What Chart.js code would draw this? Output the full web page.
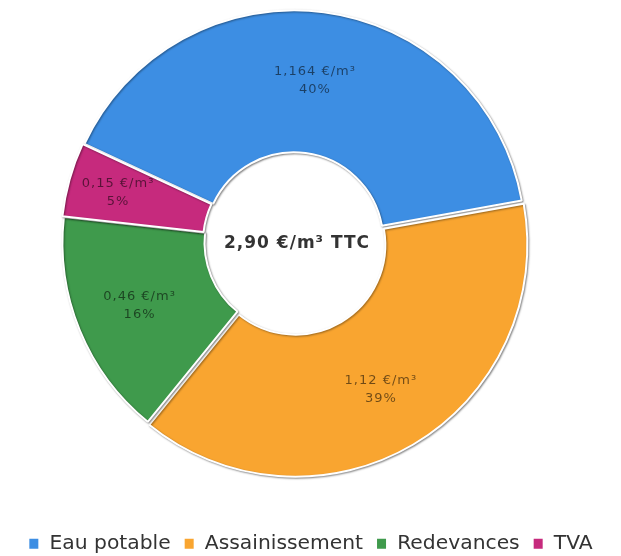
<!DOCTYPE html>
<html>
<head>
<meta charset="utf-8">
<script src="https://cdn.jsdelivr.net/npm/chart.js@4.4.0/dist/chart.umd.min.js"></script>
<style>
html, body { margin: 0; padding: 0; background: #fff; overflow: hidden; }
</style>
</head>
<body>
<canvas id="prixChart" width="621" height="564"></canvas>
<script>
// Prix de l'eau au m3, répartition par poste
var labels = ['Eau potable', 'Assainissement', 'Redevances', 'TVA'];
var values = [1.164, 1.12, 0.46, 0.15];
var unit = ' €/m³';
var centerLabel = '2,90 €/m³ TTC';

var colors = ['#3d8ee3', '#f9a530', '#3f9a4c', '#c62a7d'];

// donut sits a bit left of the page centre, legend keeps full width
var shiftPlugin = {
    id: 'shift',
    afterLayout: function(chart) {
        chart.chartArea.right -= 33;
        chart.chartArea.width -= 33;
    }
};

// soft shadow under the slices
var shadowPlugin = {
    id: 'shadow',
    beforeDatasetsDraw: function(chart) {
        var ctx = chart.ctx;
        ctx.save();
        ctx.shadowColor = 'rgba(0,0,0,0.4)';
        ctx.shadowBlur = 2;
        ctx.shadowOffsetX = 1;
        ctx.shadowOffsetY = 1;
    },
    afterDatasetsDraw: function(chart) {
        chart.ctx.restore();
    }
};

// value + percent in each slice, total in the hole
var labelPlugin = {
    id: 'sliceLabels',
    afterDatasetsDraw: function(chart) {
        var ctx = chart.ctx;
        var meta = chart.getDatasetMeta(0);
        var ds = chart.data.datasets[0];
        var total = 0;
        for (var i = 0; i < values.length; i++) total += values[i];

        ctx.save();
        ctx.letterSpacing = '1px';
        ctx.textAlign = 'center';
        ctx.textBaseline = 'middle';
        ctx.font = '13px "DejaVu Sans"';
        ctx.fillStyle = 'rgba(0,0,0,0.55)';
        meta.data.forEach(function(arc, i) {
            var p = arc.getProps(['x', 'y', 'startAngle', 'endAngle', 'innerRadius', 'outerRadius']);
            var mid = (p.startAngle + p.endAngle) / 2;
            var share = values[i] / total;
            // small slices get their text pushed outward
            var r = (p.innerRadius + p.outerRadius) / 2 + ds.offset[i] + Math.max(0, 0.2 - share) * 120;
            var x = p.x + Math.cos(mid) * r;
            var y = p.y + Math.sin(mid) * r;
            ctx.fillText(values[i].toString().replace('.', ',') + unit, x, y - 9);
            ctx.fillText(Math.round(share * 100) + '%', x, y + 9);
        });

        var c = meta.data[0];
        ctx.font = 'bold 17px "DejaVu Sans"';
        ctx.fillStyle = '#333333';
        ctx.fillText(centerLabel, c.x + 3, c.y + 1);
        ctx.restore();
    }
};

var ctx = document.getElementById('prixChart').getContext('2d');
var chart = new Chart(ctx, {
    type: 'doughnut',
    data: {
        labels: labels,
        datasets: [{
            data: values,
            backgroundColor: colors,
            borderColor: '#ffffff',
            borderWidth: 2,
            offset: [3, 11, 2, 5]
        }]
    },
    options: {
        responsive: false,
        animation: false,
        radius: 231,
        cutout: '38.5%',
        rotation: -65,
        plugins: {
            tooltip: { enabled: false },
            legend: {
                position: 'bottom',
                align: 'center',
                title: { display: true, text: '', font: { size: 36, lineHeight: 1 }, padding: 0 },
                labels: {
                    boxWidth: 11,
                    boxHeight: 12,
                    padding: 13,
                    color: '#333333',
                    font: { family: '"DejaVu Sans"', size: 20.3 }
                }
            }
        }
    },
    plugins: [shiftPlugin, shadowPlugin, labelPlugin]
});
</script>
</body>
</html>
